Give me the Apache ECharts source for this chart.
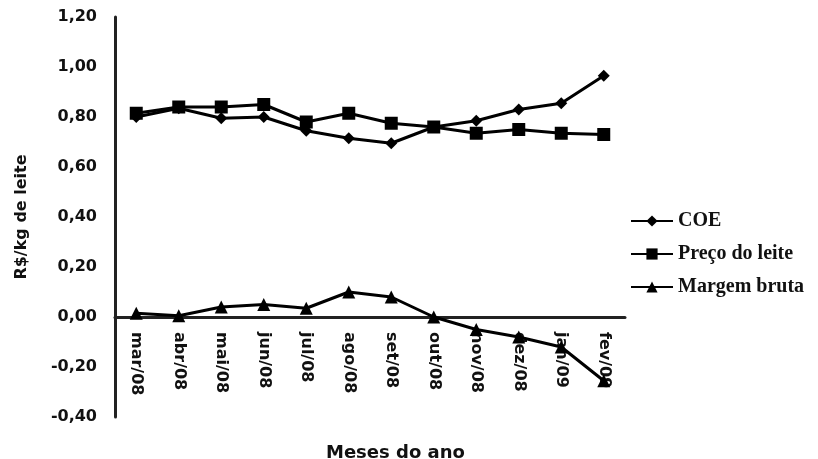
<!DOCTYPE html>
<html>
<head>
<meta charset="utf-8">
<script src="https://cdn.jsdelivr.net/npm/echarts@6/dist/echarts.min.js"></script>
<style>html,body{margin:0;padding:0;background:#fff;}#c{width:818px;height:459px;}</style>
</head>
<body>
<div id="c"></div>
<script>
const categories = ['mar/08','abr/08','mai/08','jun/08','jul/08','ago/08','set/08','out/08','nov/08','dez/08','jan/09','fev/09'];
const coe = [0.80, 0.835, 0.795, 0.80, 0.745, 0.715, 0.695, 0.76, 0.785, 0.83, 0.855, 0.965];
const precoLeite = [0.815, 0.84, 0.84, 0.85, 0.78, 0.815, 0.775, 0.76, 0.735, 0.75, 0.735, 0.73];
const margemBruta = [0.015, 0.005, 0.04, 0.05, 0.035, 0.10, 0.08, 0.0, -0.05, -0.08, -0.12, -0.255];
const seriesNames = ['COE', 'Preço do leite', 'Margem bruta'];

const chart = echarts.init(document.getElementById('c'));
const sans = 'DejaVu Sans';
const lineStyle = {color: '#000', width: 3};
chart.setOption({
  animation: false,
  backgroundColor: '#fff',
  title: {
    text: 'Meses do ano',
    left: 321, top: 439,
    textStyle: {fontFamily: sans, fontWeight: 'bold', fontSize: 18, color: '#111'}
  },
  legend: {
    orient: 'vertical',
    left: 625, top: 206,
    itemWidth: 42, itemHeight: 14, itemGap: 13,
    data: seriesNames,
    textStyle: {fontFamily: 'Liberation Serif', fontWeight: 'bold', fontSize: 20, color: '#111'}
  },
  grid: {left: 115, right: 193, top: 17, bottom: 42, containLabel: false, outerBoundsMode: 'none'},
  xAxis: {
    type: 'category',
    data: categories,
    boundaryGap: true,
    offset: -100,
    axisLine: {onZero: false, lineStyle: {color: '#222', width: 3}},
    axisTick: {show: false},
    axisLabel: {rotate: -90, margin: 15, fontFamily: sans, fontWeight: 'bold', fontSize: 16, color: '#111', interval: 0}
  },
  yAxis: {
    type: 'value',
    min: -0.4, max: 1.2, interval: 0.2,
    name: 'R$/kg de leite',
    nameLocation: 'middle',
    nameGap: 85,
    nameTextStyle: {fontFamily: sans, fontWeight: 'bold', fontSize: 16, color: '#111'},
    axisLine: {show: true, lineStyle: {color: '#222', width: 3}},
    axisTick: {show: false},
    splitLine: {show: false},
    axisLabel: {
      margin: 18, fontFamily: sans, fontWeight: 'bold', fontSize: 16, color: '#111',
      formatter: v => v.toFixed(2).replace('.', ',')
    }
  },
  series: [
    {name: seriesNames[0], type: 'line', data: coe, symbol: 'diamond', symbolSize: 12,
     lineStyle: lineStyle, itemStyle: {color: '#000'}},
    {name: seriesNames[1], type: 'line', data: precoLeite, symbol: 'rect', symbolSize: 13,
     lineStyle: lineStyle, itemStyle: {color: '#000'}},
    {name: seriesNames[2], type: 'line', data: margemBruta, symbol: 'triangle', symbolSize: 13,
     lineStyle: lineStyle, itemStyle: {color: '#000'}}
  ]
});
</script>
</body>
</html>
